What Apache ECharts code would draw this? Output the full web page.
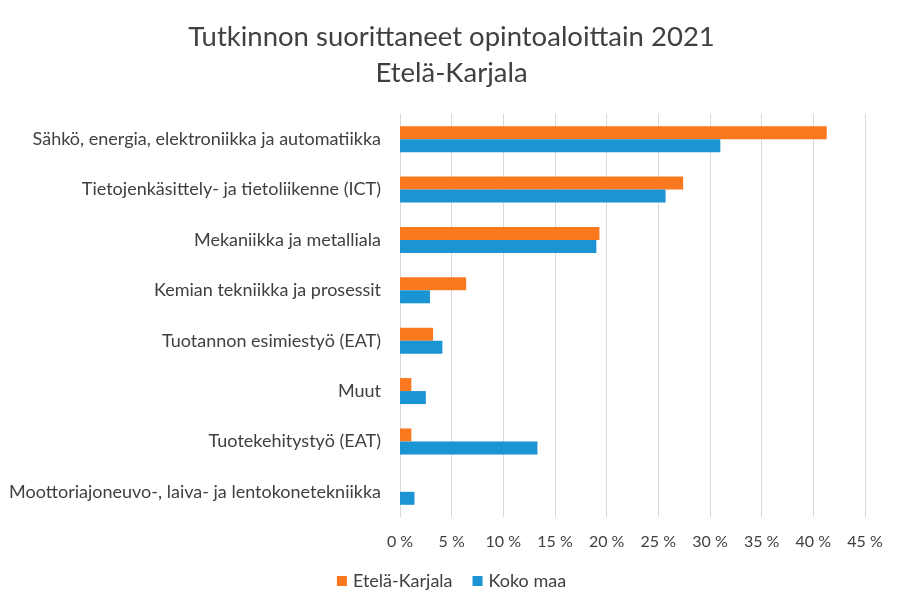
<!DOCTYPE html>
<html>
<head>
<meta charset="utf-8">
<script src="https://cdn.jsdelivr.net/npm/echarts@6/dist/echarts.min.js"></script>
<style>
  html, body { margin: 0; padding: 0; background: #fff; }
  #chart { width: 903px; height: 613px; }
</style>
</head>
<body>
<div id="chart"></div>
<script>
var categories = [
    'Sähkö, energia, elektroniikka ja automatiikka',
    'Tietojenkäsittely- ja tietoliikenne (ICT)',
    'Mekaniikka ja metalliala',
    'Kemian tekniikka ja prosessit',
    'Tuotannon esimiestyö (EAT)',
    'Muut',
    'Tuotekehitystyö (EAT)',
    'Moottoriajoneuvo-, laiva- ja lentokonetekniikka'
];
var seriesNames = ['Etelä-Karjala', 'Koko maa'];
var eteläKarjala = [41.3, 27.4, 19.3, 6.4, 3.2, 1.1, 1.1, 0];
var kokoMaa = [31.0, 25.7, 19.0, 2.9, 4.1, 2.5, 13.3, 1.4];
var colors = ['#fa781e', '#1b94d4'];

var font = 'Lato, "Open Sans", sans-serif';
var myChart = echarts.init(document.getElementById('chart'));

var option = {
    animation: false,
    title: {
        text: 'Tutkinnon suorittaneet opintoaloittain 2021\nEtelä-Karjala',
        left: 'center',
        top: 14,
        textStyle: {
            fontFamily: font,
            fontSize: 27.5,
            fontWeight: 'normal',
            color: '#404040',
            lineHeight: 36
        }
    },
    legend: {
        bottom: 18,
        left: 'center',
        itemWidth: 10,
        itemHeight: 10,
        itemGap: 20,
        icon: 'rect',
        textStyle: { fontFamily: font, fontSize: 18, color: '#404040', padding: [0, 0, 0, 1] },
        data: seriesNames
    },
    grid: { left: 400, right: 38, top: 114, bottom: 96, containLabel: false },
    xAxis: {
        type: 'value',
        min: 0,
        max: 45,
        interval: 5,
        axisLine: { show: false },
        axisTick: { show: false },
        splitLine: { lineStyle: { color: '#d9d9d9', width: 1 } },
        axisLabel: {
            formatter: '{value} %',
            fontFamily: font,
            fontSize: 16,
            color: '#404040',
            margin: 17
        }
    },
    yAxis: {
        type: 'category',
        inverse: true,
        data: categories,
        axisLine: { show: true, lineStyle: { color: '#d9d9d9' } },
        axisTick: { show: false },
        axisLabel: {
            fontFamily: font,
            fontSize: 18,
            color: '#404040',
            margin: 19
        }
    },
    series: [
        {
            name: seriesNames[0],
            type: 'bar',
            data: eteläKarjala,
            barWidth: 13,
            barGap: '0%',
            itemStyle: { color: colors[0] }
        },
        {
            name: seriesNames[1],
            type: 'bar',
            data: kokoMaa,
            barWidth: 13,
            barGap: '0%',
            itemStyle: { color: colors[1] }
        }
    ]
};

myChart.setOption(option);
</script>
</body>
</html>
